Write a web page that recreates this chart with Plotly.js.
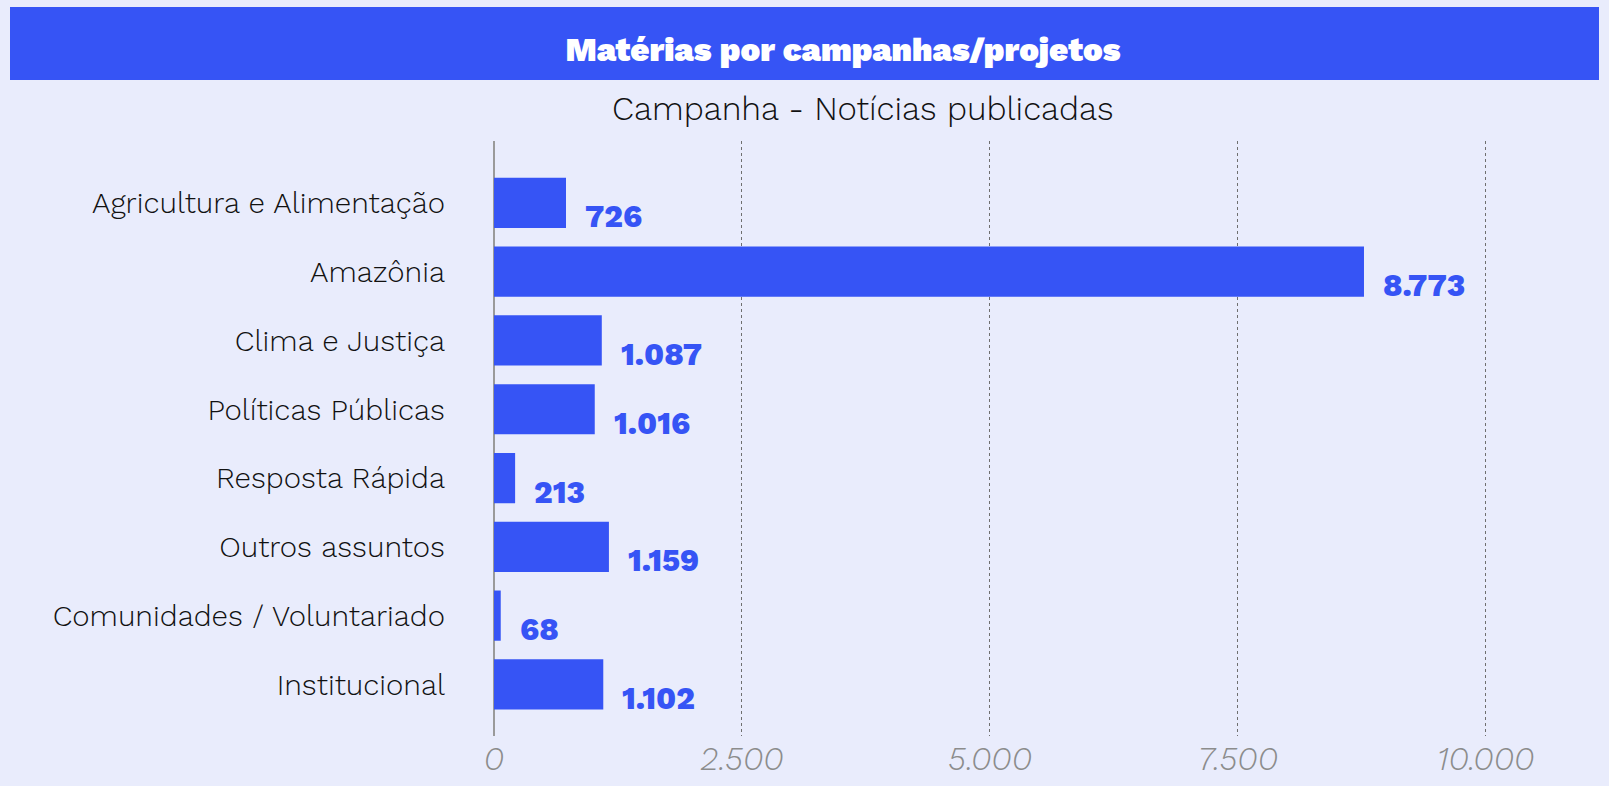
<!DOCTYPE html>
<html>
<head>
<meta charset="utf-8">
<script src="https://cdn.plot.ly/plotly-3.0.1.min.js"></script>
<style>
html,body{margin:0;padding:0;background:#E9ECFC;}
#chart{width:1609px;height:786px;}
</style>
</head>
<body>
<div id="chart"></div>
<script>
const categories = ["Agricultura e Alimentação","Amazônia","Clima e Justiça","Políticas Públicas","Resposta Rápida","Outros assuntos","Comunidades / Voluntariado","Institucional"];
const values = [726, 8773, 1087, 1016, 213, 1159, 68, 1102];
const tickValues = [0, 2500, 5000, 7500, 10000];

const W = 1609, H = 786;
const M = {l: 494, r: 44, t: 141, b: 50};
const pw = W - M.l - M.r, ph = H - M.t - M.b;
const px = x => (x - M.l) / pw;
const py = y => (H - M.b - y) / ph;

const blue = "#3654F5";
const bg = "#E9ECFC";

const trace = {
  type: "bar",
  orientation: "h",
  x: values,
  y: categories,
  marker: {color: blue},
  hoverinfo: "x+y",
  cliponaxis: false
};

const labelAnn = categories.map((c, i) => ({
  x: values[i], y: c, xref: "x", yref: "y",
  text: values[i].toLocaleString("de-DE"),
  showarrow: false, xanchor: "left", yanchor: "middle",
  xshift: 17, yshift: -14,
  font: {family: "Work Sans, Inter, Roboto, sans-serif", size: 31, color: blue, weight: 800}
}));

const layout = {
  width: W, height: H,
  paper_bgcolor: bg, plot_bgcolor: bg,
  margin: M,
  separators: ",.",
  showlegend: false,
  bargap: 0.27,
  title: {
    text: "Matérias por campanhas/projetos",
    x: 843 / W, xref: "container", xanchor: "center",
    y: 1 - 49 / H, yref: "container", yanchor: "middle",
    font: {family: "Work Sans, Inter, Roboto, sans-serif", size: 33, color: "#ffffff", weight: 900}
  },
  xaxis: {
    range: [0, 10800],
    tickvals: tickValues,
    tickformat: ",d",
    showgrid: true, gridcolor: "#6f6f6f", griddash: "dot", gridwidth: 1,
    zeroline: true, zerolinecolor: "#9a9a9a", zerolinewidth: 1.5,
    showline: false, ticks: "",
    tickfont: {family: "Work Sans, Lato, Roboto, sans-serif", size: 33, color: "#8c8c8c", style: "italic", weight: 300},
    fixedrange: true
  },
  yaxis: {
    type: "category",
    range: [7.75, -0.9],
    showgrid: false, zeroline: false, showline: false, ticks: "",
    ticklabelstandoff: 48,
    tickfont: {family: "Work Sans, Lato, Roboto, sans-serif", size: 29.5, color: "#111111", weight: 300},
    fixedrange: true
  },
  shapes: [{
    type: "rect", xref: "paper", yref: "paper", layer: "below",
    x0: px(10), x1: px(1599), y0: py(80), y1: py(7),
    fillcolor: blue, line: {width: 0}
  }],
  annotations: [{
    text: "Campanha - Notícias publicadas",
    xref: "paper", yref: "paper",
    x: px(863), y: py(109), xanchor: "center", yanchor: "middle",
    showarrow: false,
    font: {family: "Work Sans, Lato, Roboto, sans-serif", size: 33, color: "#111111", weight: 300}
  }].concat(labelAnn)
};

Plotly.newPlot("chart", [trace], layout, {displayModeBar: false, staticPlot: true});
</script>
</body>
</html>
